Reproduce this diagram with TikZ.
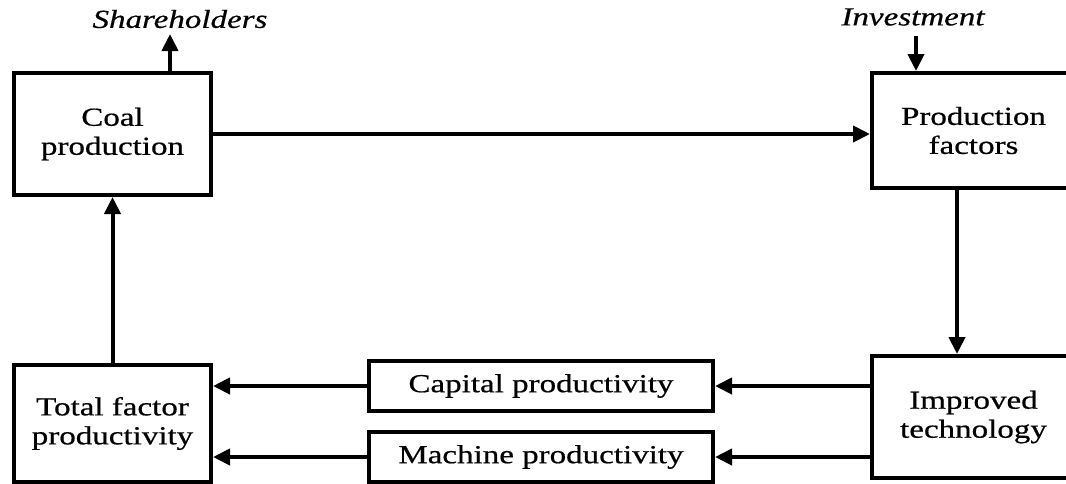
\documentclass[tikz,border=0pt]{standalone}
\usepackage{fontspec}
\setmainfont{Liberation Serif}[FakeStretch=1.27,FakeBold=0.6]
\usetikzlibrary{arrows.meta}
\begin{document}
\begin{tikzpicture}[x=1pt,y=-1pt,
  box/.style={draw, line width=4pt, inner sep=0pt, align=center,
    font=\fontsize{26}{29}\selectfont},
  arr/.style={line width=4pt, -{Triangle[length=17pt,width=16pt]}},
  lbl/.style={font=\fontsize{26}{29}\selectfont\itshape, inner sep=0pt}]
\useasboundingbox (0,0) rectangle (1066,483);
\clip (0,0) rectangle (1066,483);
\node[box, minimum width=197pt, minimum height=122pt] (coal) at (112.5,134) {Coal\\production};
\node[box, minimum width=203pt, minimum height=115pt] (pf) at (973.5,130.5) {Production\\factors};
\node[box, minimum width=203pt, minimum height=122pt] (it) at (973.5,417) {Improved\\technology};
\node[box, minimum width=344pt, minimum height=50pt] (cap) at (541,386) {Capital productivity};
\node[box, minimum width=344pt, minimum height=50pt] (mach) at (541,457) {Machine productivity};
\node[box, minimum width=197pt, minimum height=117pt] (tfp) at (112.5,423.5) {Total factor\\productivity};
\node[lbl] (sh) at (180,19) {Shareholders};
\node[lbl] (inv) at (913,17) {Investment};
\coordinate (shtip) at (170,34);
\coordinate (invtail) at (916,36);
\coordinate (pfit) at (957,0);
\draw[arr] (coal.north -| shtip) -- (shtip);
\draw[arr] (invtail) -- (invtail |- pf.north);
\draw[arr] (coal.east) -- (coal.east -| pf.west);
\draw[arr] (pf.south -| pfit) -- (it.north -| pfit);
\draw[arr] (it.west |- cap.east) -- (cap.east);
\draw[arr] (it.west |- mach.east) -- (mach.east);
\draw[arr] (cap.west) -- (cap.west -| tfp.east);
\draw[arr] (mach.west) -- (mach.west -| tfp.east);
\draw[arr] (tfp.north) -- (coal.south);
\end{tikzpicture}
\end{document}
